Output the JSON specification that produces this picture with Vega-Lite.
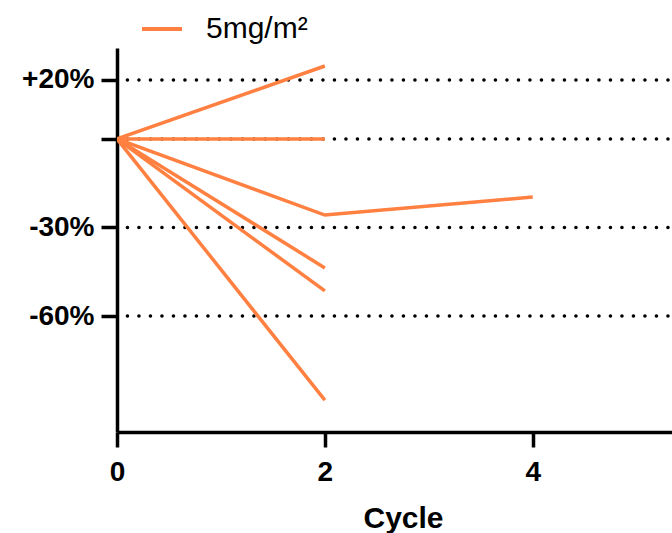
{
  "$schema": "https://vega.github.io/schema/vega-lite/v6.json",
  "width": 555,
  "height": 384,
  "autosize": "none",
  "padding": {"left": 117, "top": 48, "right": 0, "bottom": 101},
  "config": {"view": {"stroke": null}, "font": "Liberation Sans"},
  "datasets": {
    "patients": [
      {"patient": "A", "cycle": 0, "pct": 0, "dose": "5mg/m²"},
      {"patient": "A", "cycle": 2, "pct": 24.7, "dose": "5mg/m²"},
      {"patient": "B", "cycle": 0, "pct": 0, "dose": "5mg/m²"},
      {"patient": "B", "cycle": 2, "pct": 0, "dose": "5mg/m²"},
      {"patient": "C", "cycle": 0, "pct": 0, "dose": "5mg/m²"},
      {"patient": "C", "cycle": 2, "pct": -25.8, "dose": "5mg/m²"},
      {"patient": "C", "cycle": 4, "pct": -19.7, "dose": "5mg/m²"},
      {"patient": "D", "cycle": 0, "pct": 0, "dose": "5mg/m²"},
      {"patient": "D", "cycle": 2, "pct": -43.7, "dose": "5mg/m²"},
      {"patient": "E", "cycle": 0, "pct": 0, "dose": "5mg/m²"},
      {"patient": "E", "cycle": 2, "pct": -51.5, "dose": "5mg/m²"},
      {"patient": "F", "cycle": 0, "pct": 0, "dose": "5mg/m²"},
      {"patient": "F", "cycle": 2, "pct": -88.5, "dose": "5mg/m²"}
    ],
    "refs": [{"pct": 20}, {"pct": 0}, {"pct": -30}, {"pct": -60}]
  },
  "layer": [
    {
      "data": {"name": "refs"},
      "mark": {"type": "rule", "strokeDash": [0.1, 11.4], "strokeCap": "round", "strokeWidth": 3.5, "color": "black"},
      "encoding": {
        "y": {"field": "pct", "type": "quantitative"},
        "x": {"datum": 0.1, "type": "quantitative"},
        "x2": {"datum": 5.34}
      }
    },
    {
      "data": {"name": "patients"},
      "mark": {"type": "line", "strokeWidth": 3.5, "clip": true},
      "encoding": {
        "x": {
          "field": "cycle", "type": "quantitative",
          "scale": {"domain": [0, 5.34], "nice": false, "zero": false},
          "axis": {
            "title": "Cycle", "values": [0, 2, 4], "format": "d", "grid": false, "labelFlush": false, "titleX": 286,
            "domainColor": "black", "domainWidth": 3.5, "tickColor": "black", "tickWidth": 3.5, "tickSize": 15,
            "labelFont": "Liberation Sans", "labelFontSize": 28, "labelFontWeight": "bold", "labelColor": "black", "labelPadding": 11,
            "titleFont": "Liberation Sans", "titleFontSize": 30, "titleFontWeight": "bold", "titleColor": "black", "titlePadding": 17
          }
        },
        "y": {
          "field": "pct", "type": "quantitative",
          "scale": {"domain": [-99.3, 30.8], "nice": false, "zero": false},
          "axis": {
            "title": null, "values": [20, 0, -30, -60], "grid": false,
            "labelExpr": "datum.value == 20 ? '+20%' : (datum.value == 0 ? '' : datum.value + '%')",
            "domainColor": "black", "domainWidth": 3.5, "tickColor": "black", "tickWidth": 3.5, "tickSize": 16,
            "labelFont": "Liberation Sans", "labelFontSize": 28, "labelFontWeight": "bold", "labelColor": "black", "labelPadding": 7
          }
        },
        "color": {
          "field": "dose", "type": "nominal",
          "scale": {"range": ["#FF8040"]},
          "legend": {
            "orient": "none", "legendX": 23, "legendY": -41, "title": null,
            "symbolType": "stroke", "symbolSize": 1600, "symbolStrokeWidth": 4,
            "labelFont": "Liberation Sans", "labelFontSize": 30, "labelColor": "black", "labelOffset": 22, "padding": 0
          }
        },
        "detail": {"field": "patient"},
        "order": {"field": "cycle"}
      }
    }
  ]
}
